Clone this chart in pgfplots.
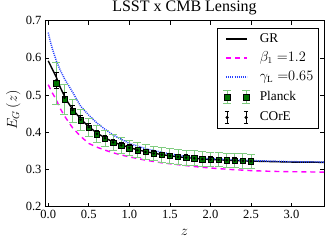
\documentclass[border=0pt]{standalone}
\usepackage{pgfplots}
\pgfplotsset{compat=1.18}
\usepackage{fontspec}
\setmainfont{Liberation Serif}
\definecolor{plerr}{rgb}{0.50,0.80,0.50}
\definecolor{pldark}{rgb}{0.0,0.45,0.0}
\definecolor{mymag}{rgb}{1,0,1}
\definecolor{myblue}{rgb}{0.15,0.25,1}
\pgfplotstableread{
z v
0 0.592
0.05 0.570
0.1 0.548
0.15 0.520
0.2 0.497
0.25 0.478
0.3 0.462
0.4 0.436
0.5 0.415
0.6 0.398
0.7 0.385
0.8 0.374
0.9 0.366
1.0 0.359
1.1 0.353
1.2 0.348
1.3 0.344
1.4 0.340
1.5 0.337
1.6 0.334
1.7 0.332
1.8 0.330
1.9 0.328
2.0 0.327
2.2 0.325
2.4 0.323
2.6 0.322
2.8 0.321
3.0 0.320
3.2 0.320
3.4 0.319
}\tabgr
\pgfplotstableread{
z v
0 0.528
0.05 0.506
0.1 0.487
0.15 0.463
0.2 0.444
0.3 0.412
0.4 0.389
0.5 0.370
0.6 0.360
0.7 0.352
0.8 0.345
0.9 0.339
1.0 0.334
1.2 0.325
1.4 0.318
1.6 0.313
1.8 0.308
2.0 0.304
2.25 0.300
2.5 0.297
2.75 0.295
3.0 0.294
3.4 0.293
}\tabbeta
\pgfplotstableread{
z v
0 0.668
0.025 0.645
0.05 0.625
0.1 0.592
0.15 0.566
0.2 0.544
0.3 0.508
0.4 0.470
0.5 0.446
0.6 0.425
0.7 0.408
0.8 0.393
0.9 0.381
1.0 0.370
1.2 0.356
1.4 0.346
1.6 0.338
1.8 0.333
2.0 0.329
2.5 0.324
3.0 0.321
3.4 0.320
}\tabgam
\pgfplotstableread{
z v e
0.1 0.532 0.056
0.2 0.489 0.040
0.3 0.457 0.032
0.4 0.432 0.028
0.5 0.413 0.025
0.6 0.395 0.023
0.7 0.383 0.022
0.8 0.372 0.021
0.9 0.364 0.021
1.0 0.357 0.020
1.1 0.352 0.020
1.2 0.347 0.020
1.3 0.343 0.020
1.4 0.340 0.020
1.5 0.337 0.020
1.6 0.334 0.020
1.7 0.332 0.020
1.8 0.330 0.020
1.9 0.328 0.020
2.0 0.327 0.020
2.1 0.326 0.019
2.2 0.325 0.019
2.3 0.324 0.019
2.4 0.323 0.019
2.5 0.322 0.019
}\tabplanck
\pgfplotstableread{
z v e
0.1 0.540 0.022
0.2 0.493 0.014
0.3 0.460 0.011
0.4 0.434 0.010
0.5 0.414 0.009
0.6 0.396 0.009
0.7 0.384 0.008
0.8 0.373 0.008
0.9 0.365 0.008
1.0 0.358 0.008
1.1 0.352 0.007
1.2 0.347 0.007
1.3 0.343 0.007
1.4 0.340 0.007
1.5 0.337 0.007
1.6 0.334 0.007
1.7 0.332 0.007
1.8 0.330 0.007
1.9 0.328 0.007
2.0 0.327 0.007
2.1 0.326 0.007
2.2 0.325 0.007
2.3 0.324 0.007
2.4 0.323 0.007
2.5 0.322 0.007
}\tabcore
\begin{document}
\begin{tikzpicture}
\begin{axis}[
  at={(0,0)}, anchor=south west,
  scale only axis, width=279pt, height=186pt,
  xmin=-0.04, xmax=3.4, ymin=0.2, ymax=0.7,
  xtick={0,0.5,1,1.5,2,2.5,3},
  ytick={0.2,0.3,0.4,0.5,0.6,0.7},
  xtick pos=both, ytick pos=both,
  tick align=inside, major tick length=4pt,
  axis line style={line width=0.8pt},
  tick style={line width=0.6pt, black},
  tick label style={font=\fontsize{12.5}{12.5}\selectfont},
  /pgf/number format/.cd, fixed, fixed zerofill, precision=1, assume math mode=true,
  /pgfplots/.cd,
  title={LSST x CMB Lensing},
  title style={at={(axis description cs:0.5,1)}, anchor=base, yshift=3.6pt, font=\fontsize{16}{16}\selectfont},
  xlabel={$z$}, ylabel={$E_G\,(z)$},
  label style={font=\fontsize{14}{14}\selectfont},
  xlabel style={at={(axis description cs:0.5,0)}, anchor=base, yshift=-29pt},
  ylabel style={at={(axis description cs:-0.1136,0.52)}, anchor=center},
  legend style={at={(axis cs:2.078,0.681)}, anchor=north west,
    draw=black, line width=0.8pt, font=\fontsize{13.3}{13.3}\selectfont,
    inner xsep=5pt, inner ysep=5pt, row sep=7pt, column sep=0pt,
    nodes={inner sep=0pt, text height=9pt, text depth=3pt}},
  legend cell align=left,
]
\addplot[black, line width=1.4pt, forget plot] table[x=z,y=v] {\tabgr};
\addplot[mymag, line width=1.4pt, dash pattern=on 5pt off 4pt, forget plot] table[x=z,y=v] {\tabbeta};
\addplot[myblue, line width=1.5pt, dash pattern=on 1pt off 1.1pt, forget plot] table[x=z,y=v] {\tabgam};
\addplot[only marks, mark=square*, mark size=2.7pt, mark options={fill=pldark, draw=black, line width=0.5pt}, forget plot,
  error bars/.cd, y dir=both, y explicit,
  error bar style={plerr, line width=1pt},
  error mark options={plerr, line width=1pt, mark size=4pt, rotate=90}]
  table[x=z,y=v,y error=e] {\tabplanck};
\addplot[only marks, mark=*, mark size=1.1pt, black, forget plot,
  error bars/.cd, y dir=both, y explicit,
  error bar style={black, line width=1pt},
  error mark options={black, line width=1pt, mark size=2.3pt, rotate=90}]
  table[x=z,y=v,y error=e] {\tabcore};
\addlegendimage{legend image code/.code={\path[draw=none] (-4pt,0pt) -- (33.6pt,0pt); \draw[black,line width=1.4pt] (0pt,0pt)--(21pt,0pt);}}
\addlegendentry{GR}
\addlegendimage{legend image code/.code={\path[draw=none] (-4pt,0pt) -- (33.6pt,0pt); \draw[mymag,line width=1.4pt, dash pattern=on 5pt off 4pt] (0pt,0pt)--(21pt,0pt);}}
\addlegendentry{$\beta_1\;{=}1.2$}
\addlegendimage{legend image code/.code={\path[draw=none] (-4pt,0pt) -- (33.6pt,0pt); \draw[myblue,line width=1.5pt, dash pattern=on 1pt off 1.1pt] (0pt,0pt)--(21pt,0pt);}}
\addlegendentry{$\gamma_{\rm L}\;{=}0.65$}
\addlegendimage{legend image code/.code={\path[draw=none] (-4pt,0pt) -- (33.6pt,0pt);
    \draw[plerr, line width=1pt] (1pt,-6.5pt)--(1pt,6.5pt) (-3pt,6.5pt)--(5pt,6.5pt) (-3pt,-6.5pt)--(5pt,-6.5pt)
      (20pt,-6.5pt)--(20pt,6.5pt) (16pt,6.5pt)--(24pt,6.5pt) (16pt,-6.5pt)--(24pt,-6.5pt);
    \draw[fill=pldark, draw=black, line width=0.5pt] (-1.7pt,-2.7pt) rectangle (3.7pt,2.7pt) (17.3pt,-2.7pt) rectangle (22.7pt,2.7pt);
  }}
\addlegendentry{Planck}
\addlegendimage{legend image code/.code={\path[draw=none] (-4pt,0pt) -- (33.6pt,0pt);
    \draw[black, line width=1pt] (1pt,-5.8pt)--(1pt,5.8pt) (-1.3pt,5.8pt)--(3.3pt,5.8pt) (-1.3pt,-5.8pt)--(3.3pt,-5.8pt)
      (20pt,-5.8pt)--(20pt,5.8pt) (17.7pt,5.8pt)--(22.3pt,5.8pt) (17.7pt,-5.8pt)--(22.3pt,-5.8pt);
    \fill[black] (1pt,0pt) circle (1.2pt) (20pt,0pt) circle (1.2pt);
  }}
\addlegendentry{COrE}
\end{axis}
\pgfresetboundingbox
\path[use as bounding box] (-45pt,-38.3pt) rectangle (284pt,206.7pt);
\end{tikzpicture}
\end{document}
